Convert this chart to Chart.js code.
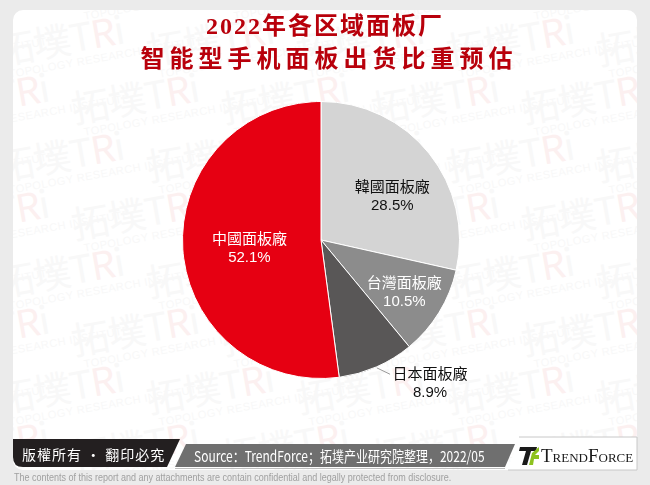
<!DOCTYPE html>
<html>
<head>
<meta charset="utf-8">
<script src="https://cdn.jsdelivr.net/npm/chart.js@4.4.0/dist/chart.umd.min.js"></script>
<style>
  html,body{margin:0;padding:0;}
  body{width:650px;height:485px;background:#ebebeb;position:relative;overflow:hidden;font-family:"Noto Sans CJK TC","Noto Sans",sans-serif;}
  #card{position:absolute;left:13px;top:10px;width:624px;height:460px;background:#fff;border-radius:10px;overflow:hidden;}
  #wm{position:absolute;left:0;top:0;width:100%;height:100%;}
  .wm{position:absolute;transform:rotate(-10deg);transform-origin:left top;color:#f8f8f8;white-space:nowrap;}
  .wm .big{font:38px "Noto Sans CJK SC",sans-serif;letter-spacing:-1px;line-height:40px;}
  .wm .big i{font-style:normal;color:#fcf0f0;}
  .wm .small{font:11px "Liberation Sans",sans-serif;letter-spacing:0.5px;line-height:12px;margin-left:8px;}
  .title{position:absolute;left:0;width:650px;text-align:center;color:#b8000b;font:bold 24px "Liberation Serif","Noto Sans CJK SC",serif;}
  #chartWrap{position:absolute;left:121px;top:40px;width:400px;height:400px;}
  #footer{position:absolute;left:0;top:0;width:650px;height:485px;pointer-events:none;}
  .ft{position:absolute;white-space:nowrap;}
</style>
</head>
<body>
<div id="card"><div id="wm"></div></div>
<div id="chartWrap"><canvas id="c" width="400" height="400"></canvas></div>
<div class="title" style="top:6px;letter-spacing:2px;">2022年各区域面板厂</div>
<div class="title" style="top:39px;letter-spacing:5px;left:4px;">智能型手机面板出货比重预估</div>
<svg id="footer" width="650" height="485">
  <path d="M13,439 L180,439 L167,467 L23,467 Q13,467 13,457 Z" fill="#231f20"/>
  <path d="M186,444 L515,444 L505,467 L175,467 Z" fill="#6f6f6f"/>
  <path d="M519,437 L637,437 L637,470 L508,470" fill="#fff" stroke="#c8c8c8" stroke-width="1"/>
  <line x1="175" y1="468.5" x2="505" y2="468.5" stroke="#bdbdbd" stroke-width="1"/>
  <path d="M520,447 L537,447 L536,451 L531,451 L527,465 L522,465 L526,451 L519,451 Z" fill="#1a1a1a"/>
  <path d="M532,453 L539,447 L539,451 L535,455 L539,455 L539,459 L534,459 L533,465 L529,465 Z" fill="#8dc21f"/>
</svg>
<div class="ft" style="left:22px;top:444px;color:#fff;font:14px 'Noto Sans CJK TC',sans-serif;letter-spacing:1px;">版權所有 · 翻印必究</div>
<div class="ft" style="left:194px;top:445px;color:#fff;font:15px 'Noto Sans CJK SC',sans-serif;transform:scaleX(0.8);transform-origin:left top;">Source：TrendForce；拓墣产业研究院整理，2022/05</div>
<div class="ft" style="left:541px;top:445px;color:#1a1a1a;font:19px 'Liberation Serif',serif;font-variant:small-caps;letter-spacing:0px;">TrendForce</div>
<div class="ft" style="left:14px;top:472px;color:#a0a0a0;font:10px 'Liberation Sans',sans-serif;transform:scaleX(0.9);transform-origin:left top;">The contents of this report and any attachments are contain confidential and legally protected from disclosure.</div>
<script>
// ---- data ----
const categories = ['韓國面板廠', '台灣面板廠', '日本面板廠', '中國面板廠'];
const shares = [28.5, 10.5, 8.9, 52.1];
const sliceColors = ['#d4d4d4', '#8c8c8c', '#595757', '#e60012'];
const labelColors = ['#111111', '#ffffff', '#111111', '#ffffff'];

// watermark (decoration)
(function(){
  const wm = document.getElementById('wm');
  for (let r = -1; r < 9; r++) {
    for (let c = -1; c < 6; c++) {
      const d = document.createElement('div');
      d.className = 'wm';
      d.style.left = (c * 150 + (r % 2 ? 75 : 0) - 20) + 'px';
      d.style.top = (r * 58 + 20) + 'px';
      d.innerHTML = '<div class="big">拓墣T<i>R</i>i</div><div class="small">TOPOLOGY RESEARCH INSTITUTE</div>';
      wm.appendChild(d);
    }
  }
})();

const labelPlugin = {
  id: 'sliceLabels',
  afterDatasetsDraw(chart, args, opts) {
    const ctx = chart.ctx;
    const meta = chart.getDatasetMeta(0);
    meta.data.forEach((arc, i) => {
      const mid = (arc.startAngle + arc.endAngle) / 2 + opts.angleShift[i] * Math.PI / 180;
      const r = arc.outerRadius * opts.radius[i];
      const x = arc.x + Math.cos(mid) * r;
      const y = arc.y + Math.sin(mid) * r;
      if (opts.leader[i]) {
        const m0 = (arc.startAngle + arc.endAngle) / 2;
        ctx.save();
        ctx.strokeStyle = '#9a9a9a';
        ctx.lineWidth = 1;
        ctx.beginPath();
        ctx.moveTo(arc.x + Math.cos(m0) * (arc.outerRadius + 1), arc.y + Math.sin(m0) * (arc.outerRadius + 1));
        ctx.lineTo(x - 40, y - 9);
        ctx.stroke();
        ctx.restore();
      }
      ctx.save();
      ctx.fillStyle = labelColors[i];
      ctx.textAlign = 'center';
      ctx.textBaseline = 'middle';
      ctx.font = '15px "Noto Sans CJK TC", sans-serif';
      ctx.fillText(categories[i], x, y - 10);
      ctx.font = '15px "Liberation Sans", "Noto Sans CJK TC", sans-serif';
      ctx.fillText(shares[i].toFixed(1) + '%', x, y + 10);
      ctx.restore();
    });
  }
};

new Chart(document.getElementById('c'), {
  type: 'pie',
  data: {
    labels: categories,
    datasets: [{
      data: shares,
      backgroundColor: sliceColors,
      borderColor: '#ffffff',
      borderWidth: 1
    }]
  },
  options: {
    responsive: false,
    animation: false,
    layout: { padding: { left: 61, right: 61, top: 61, bottom: 61 } },
    plugins: {
      legend: { display: false },
      tooltip: { enabled: false },
      sliceLabels: {
        radius: [0.605, 0.71, 1.30, 0.52],
        angleShift: [7, 0.6, -13.7, -2.6],
        leader: [false, false, true, false]
      }
    }
  },
  plugins: [labelPlugin]
});
</script>
</body>
</html>
